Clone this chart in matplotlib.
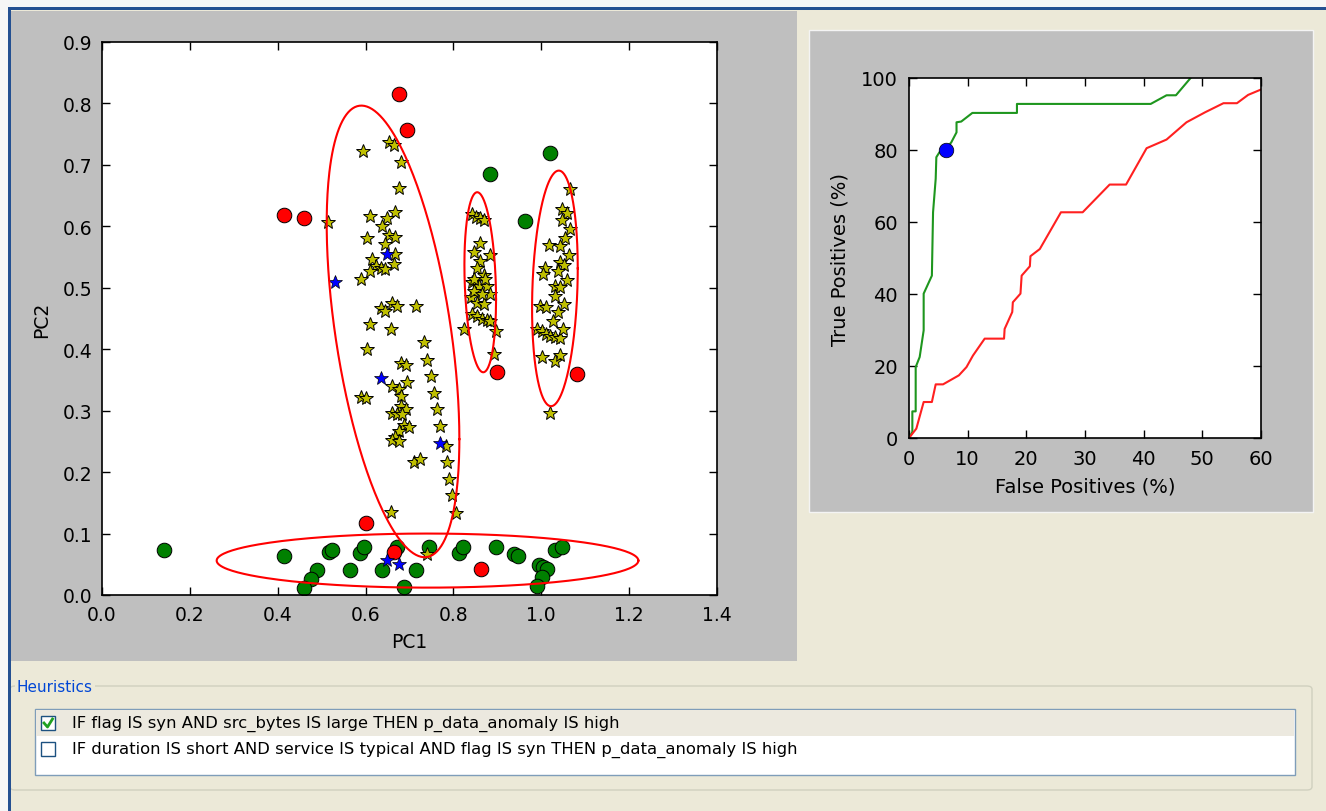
import numpy as np
import matplotlib
matplotlib.use("Agg")
import matplotlib.pyplot as plt
from matplotlib.patches import Rectangle, FancyBboxPatch
from matplotlib.lines import Line2D

W, H = 1326, 812

# ---- PCA scatter data ----
yellow_pc1 = [0.653, 0.664, 0.595, 0.680, 0.676, 0.668, 0.610, 0.649, 0.638, 0.514,
              0.653, 0.668, 0.604, 0.645, 0.668, 0.664, 0.615, 0.623, 0.634, 0.645,
              0.611, 0.590, 0.634, 0.645, 0.661, 0.672, 0.714, 0.611, 0.657, 0.604,
              0.733, 0.740, 0.680, 0.691, 0.748, 0.695, 0.661, 0.676, 0.680, 0.755,
              0.589, 0.600, 0.680, 0.691, 0.661, 0.672, 0.683, 0.763, 0.687, 0.698,
              0.676, 0.668, 0.661, 0.676, 0.770, 0.782, 0.710, 0.725, 0.786, 0.790,
              0.797, 0.805, 0.657, 0.740,
              0.842, 0.852, 0.861, 0.869, 0.860, 0.846, 0.883, 0.861, 0.854, 0.869,
              0.842, 0.858, 0.877, 0.883, 0.839, 0.854, 0.869, 0.842, 0.854, 0.865,
              0.877, 0.884, 0.825, 0.898, 0.893, 0.846, 0.873, 0.846, 0.865,
              1.066, 1.047, 1.058, 1.047, 1.066, 1.055, 1.017, 1.042, 1.062, 1.042,
              1.051, 1.009, 1.005, 1.039, 1.058, 1.032, 1.043, 1.032, 1.051, 0.998,
              1.011, 1.039, 1.026, 0.990, 1.001, 1.011, 1.020, 1.032, 1.042, 1.049,
              1.001, 1.032, 1.043, 1.020]
yellow_pc2 = [0.737, 0.732, 0.722, 0.705, 0.663, 0.624, 0.617, 0.613, 0.600, 0.607,
              0.586, 0.582, 0.581, 0.571, 0.555, 0.539, 0.547, 0.536, 0.533, 0.530,
              0.528, 0.514, 0.467, 0.463, 0.475, 0.471, 0.470, 0.441, 0.433, 0.401,
              0.411, 0.383, 0.378, 0.374, 0.357, 0.346, 0.340, 0.335, 0.324, 0.329,
              0.323, 0.320, 0.307, 0.303, 0.297, 0.295, 0.295, 0.302, 0.276, 0.273,
              0.267, 0.257, 0.253, 0.251, 0.275, 0.243, 0.217, 0.222, 0.217, 0.189,
              0.162, 0.133, 0.135, 0.067,
              0.620, 0.616, 0.613, 0.611, 0.573, 0.558, 0.553, 0.544, 0.533, 0.520,
              0.509, 0.503, 0.503, 0.490, 0.485, 0.476, 0.474, 0.457, 0.454, 0.450,
              0.448, 0.446, 0.433, 0.430, 0.392, 0.514, 0.514, 0.495, 0.490,
              0.661, 0.628, 0.622, 0.611, 0.595, 0.581, 0.570, 0.568, 0.553, 0.542,
              0.537, 0.533, 0.522, 0.528, 0.512, 0.503, 0.501, 0.487, 0.474, 0.471,
              0.468, 0.461, 0.446, 0.433, 0.429, 0.425, 0.422, 0.420, 0.418, 0.433,
              0.387, 0.381, 0.391, 0.297]

blue_pc1 = [0.649, 0.530, 0.634, 0.770, 0.649, 0.676]
blue_pc2 = [0.555, 0.509, 0.353, 0.247, 0.057, 0.050]

green_pc1 = [0.883, 1.020, 0.964, 0.142, 0.414, 0.517, 0.524, 0.489, 0.475, 0.460,
             0.564, 0.587, 0.596, 0.638, 0.672, 0.714, 0.687, 0.744, 0.812, 0.822,
             0.898, 0.937, 0.948, 0.994, 1.005, 1.014, 1.001, 0.990, 1.032, 1.047]
green_pc2 = [0.685, 0.719, 0.609, 0.074, 0.063, 0.0695, 0.074, 0.041, 0.026, 0.011,
             0.041, 0.068, 0.078, 0.041, 0.078, 0.041, 0.0125, 0.078, 0.068, 0.078,
             0.078, 0.067, 0.063, 0.049, 0.045, 0.042, 0.029, 0.014, 0.074, 0.078]

red_pc1 = [0.676, 0.695, 0.414, 0.460, 0.899, 1.081, 0.600, 0.664, 0.863]
red_pc2 = [0.815, 0.756, 0.618, 0.613, 0.363, 0.360, 0.117, 0.0695, 0.043]

# cluster ellipses: centre, half extent in x / y, correlation
ell_cx = [0.6625, 0.741, 0.861, 1.031]
ell_cy = [0.429, 0.056, 0.509, 0.499]
ell_sx = [0.151, 0.480, 0.036, 0.052]
ell_sy = [0.3675, 0.044, 0.1465, 0.1917]
ell_rho = [-0.477, 0.0, -0.19, 0.17]

# ---- ROC data ----
green_fp = [0, 0.57, 0.57, 1.14, 1.14, 1.82, 2.5, 2.5, 3.9, 4.1, 4.55, 4.66, 5.2,
            6.26, 7.2, 8.1, 8.1, 8.9, 10.8, 18.4, 18.4, 41.2, 43.9, 45.5, 48.0]
green_tp = [0, 1.7, 7.4, 7.4, 19.7, 22.5, 29.9, 40.1, 45.1, 62.7, 72, 78, 79.4,
            80.3, 82.1, 84.9, 87.7, 87.9, 90.3, 90.3, 92.8, 92.8, 95.2, 95.2, 100]
red_fp = [0, 1.25, 2.5, 3.9, 4.55, 5.8, 8.5, 9.8, 10.9, 12.9, 16.2, 16.3, 17.6,
          17.7, 19.0, 19.2, 20.6, 20.7, 22.3, 25.9, 29.6, 34.2, 37.0, 40.5, 43.9,
          47.3, 50.5, 53.6, 55.9, 57.8, 60]
red_tp = [0, 2.6, 10, 10, 14.9, 14.9, 17.4, 19.7, 22.9, 27.6, 27.6, 30.3, 35,
          37.7, 40.1, 45.1, 47.7, 50.5, 52.5, 62.7, 62.7, 70.4, 70.4, 80.5, 82.9,
          87.7, 90.5, 93, 93, 95.3, 96.8]
op_fp = [6.26]
op_tp = [80.0]

heuristics = ["IF flag IS syn AND src_bytes IS large THEN p_data_anomaly IS high",
              "IF duration IS short AND service IS typical AND flag IS syn THEN p_data_anomaly IS high"]
checked = [True, False]


def box(x0, y0, x1, y1):
    return [x0 / W, 1 - y1 / H, (x1 - x0) / W, (y1 - y0) / H]


def rect(x0, y0, x1, y1, z=-5, **kw):
    l, b, w, h = box(x0, y0, x1, y1)
    fig.add_artist(Rectangle((l, b), w, h, transform=fig.transFigure, zorder=z, **kw))


fig = plt.figure(figsize=(W / 100, H / 100), dpi=100, facecolor="#ECE9D8")

# window frame and panels
rect(0, 0, W, 8, facecolor="#F6F6F6", edgecolor="none")
rect(0, 0, 8, H, facecolor="#F6F6F6", edgecolor="none")
rect(11, 12, 797, 662, facecolor="#BFBFBF", edgecolor="none")
rect(809, 31, 1313, 513, facecolor="#BFBFBF", edgecolor="#F4F4F4", lw=1)

# heuristics group box
l, b, w, h = box(10, 687, 1312, 791)
fig.add_artist(FancyBboxPatch((l, b), w, h, boxstyle="round,pad=0,rounding_size=0.004",
                              transform=fig.transFigure, facecolor="none",
                              edgecolor="#D0D0BF", lw=1, zorder=-4))
fig.text(17 / W, 1 - 687 / H, "Heuristics", color="#0046D5", fontsize=11,
         va="center", ha="left",
         bbox=dict(facecolor="#ECE9D8", edgecolor="none", pad=1.5))
rect(35, 710, 1295, 776, facecolor="white", edgecolor="#7F9DB9", lw=1)
rect(36, 711, 1294, 737, facecolor="#ECE9DF", edgecolor="none")
for i, (txt, on) in enumerate(zip(heuristics, checked)):
    yc = 724 + 26 * i
    rect(41, yc - 7, 55, yc + 7, facecolor="white", edgecolor="#1C5180", lw=1)
    if on:
        fig.add_artist(Line2D([44 / W, 47.5 / W, 52.5 / W],
                              [1 - (yc) / H, 1 - (yc + 4) / H, 1 - (yc - 4) / H],
                              transform=fig.transFigure, color="#21A121", lw=2))
    fig.text(72 / W, 1 - yc / H, txt, fontsize=11.8, va="center", ha="left", color="black")

# blue window border on top of everything else in the frame
rect(8, 8, W, 11, z=10, facecolor="#245091", edgecolor="none")
rect(8, 8, 11, H, z=10, facecolor="#245091", edgecolor="none")

# ---- PCA scatter ----
ax = fig.add_axes(box(102, 43, 717, 596))
ax.set_zorder(5)
ax.set_facecolor("white")
ax.plot(green_pc1, green_pc2, "o", color="#008000", mec="black", mew=0.7, ms=10.5, ls="none")
ax.plot(red_pc1, red_pc2, "o", color="#FF0000", mec="black", mew=0.7, ms=10.5, ls="none")
ax.plot(yellow_pc1, yellow_pc2, "*", color="#BFBF00", mec="black", mew=0.7, ms=10, ls="none")
ax.plot(blue_pc1, blue_pc2, "*", color="#0000FF", mec="black", mew=0.5, ms=10, ls="none")
t = np.linspace(0, 2 * np.pi, 300)
for cx, cy, sx, sy, r in zip(ell_cx, ell_cy, ell_sx, ell_sy, ell_rho):
    ax.plot(cx + sx * np.cos(t), cy + sy * (r * np.cos(t) + np.sqrt(1 - r * r) * np.sin(t)),
            color="#FF0000", lw=1.5)
ax.set_xlim(0, 1.4)
ax.set_ylim(0, 0.9)
ax.set_xticks(np.arange(0, 1.41, 0.2))
ax.set_yticks(np.arange(0, 0.91, 0.1))
ax.xaxis.set_major_formatter(matplotlib.ticker.FormatStrFormatter("%.1f"))
ax.yaxis.set_major_formatter(matplotlib.ticker.FormatStrFormatter("%.1f"))
ax.tick_params(direction="in", top=True, right=True, length=6, width=1, labelsize=13.5, pad=7)
ax.set_xlabel("PC1", fontsize=13.5, labelpad=6)
ax.set_ylabel("PC2", fontsize=13.5, labelpad=8)
for s in ax.spines.values():
    s.set_linewidth(1.2)

# ---- ROC ----
ax2 = fig.add_axes(box(909, 79, 1261, 439))
ax2.set_zorder(5)
ax2.set_facecolor("white")
ax2.plot(green_fp, green_tp, color="#1E961E", lw=1.5)
ax2.plot(red_fp, red_tp, color="#FF2020", lw=1.5)
ax2.plot(op_fp, op_tp, "o", color="#0000FF", mec="black", mew=0.5, ms=10.5)
ax2.set_xlim(0, 60)
ax2.set_ylim(0, 100)
ax2.set_xticks(range(0, 61, 10))
ax2.set_yticks(range(0, 101, 20))
ax2.tick_params(direction="in", top=True, right=True, length=6, width=1, labelsize=14, pad=8)
ax2.set_xlabel("False Positives (%)", fontsize=14, labelpad=6)
ax2.set_ylabel("True Positives (%)", fontsize=14, labelpad=8)
for s in ax2.spines.values():
    s.set_linewidth(1.2)

fig.savefig("out.png", dpi=100, facecolor=fig.get_facecolor())
